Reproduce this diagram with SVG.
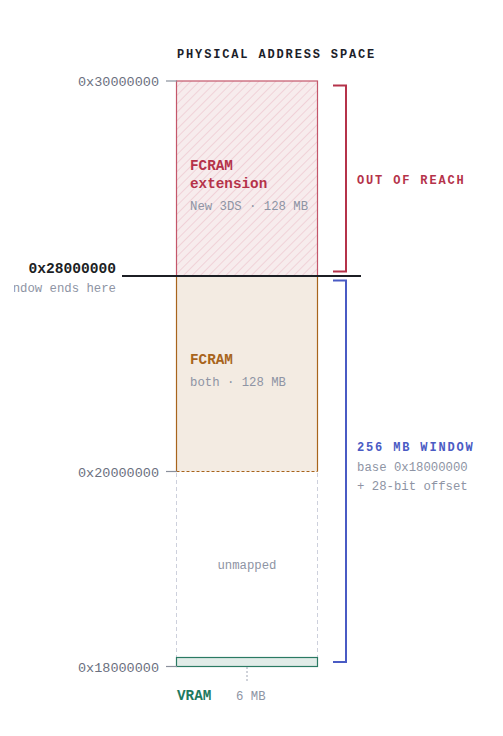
<svg xmlns="http://www.w3.org/2000/svg" width="503" height="736" viewBox="0 0 503 736">
<style>
text{font-family:"Liberation Mono","DejaVu Sans Mono",monospace;}
.title{font-size:12px;font-weight:bold;letter-spacing:1.85px;}
.addr{font-size:13.5px;fill:#6b7080;text-anchor:end;}
.tick{stroke:#8a909c;stroke-width:1.2;}
.name{font-size:14.3px;font-weight:bold;}
.sub{font-size:12.3px;fill:#8e94a4;}
</style>
<defs>
<pattern id="hatch" width="6" height="6" patternUnits="userSpaceOnUse" patternTransform="rotate(45)">
<rect width="6" height="6" fill="#f7eced"/>
<line x1="0" y1="0" x2="0" y2="6" stroke="#e9b9c3" stroke-width="1"/>
</pattern>
<clipPath id="leftclip"><rect x="14" y="0" width="489" height="736"/></clipPath>
</defs>
<text class="title" x="177" y="58" fill="#1c1e2a">PHYSICAL ADDRESS SPACE</text>

<g id="ext">
<rect x="176.5" y="81" width="141" height="195" fill="url(#hatch)" stroke="#c4566a" stroke-width="1.2"/>
<text class="name" x="190" y="170" fill="#b5334a">FCRAM</text>
<text class="name" x="190" y="188" fill="#b5334a">extension</text>
<text class="sub" x="190" y="210">New 3DS · 128 MB</text>
</g>

<g id="fcram">
<rect x="176.5" y="276" width="141" height="195.5" fill="#f3ebe2"/>
<line x1="176.5" y1="276" x2="176.5" y2="471.5" stroke="#a8641c" stroke-width="1.2"/>
<line x1="317.5" y1="276" x2="317.5" y2="471.5" stroke="#a8641c" stroke-width="1.2"/>
<line x1="176.5" y1="471.5" x2="317.5" y2="471.5" stroke="#a8641c" stroke-width="1.2" stroke-dasharray="3,2"/>
<text class="name" x="190" y="364" fill="#a8641c">FCRAM</text>
<text class="sub" x="190" y="386">both · 128 MB</text>
</g>

<g id="unmapped">
<line x1="176.5" y1="473" x2="176.5" y2="657" stroke="#cdd0dc" stroke-width="1" stroke-dasharray="4,3"/>
<line x1="317.5" y1="473" x2="317.5" y2="657" stroke="#cdd0dc" stroke-width="1" stroke-dasharray="4,3"/>
<text class="sub" x="247" y="569" text-anchor="middle" fill="#9aa0b0">unmapped</text>
</g>

<g id="vram">
<rect x="176.5" y="657.5" width="141" height="9" fill="#e1ece8" stroke="#2a7a63" stroke-width="1.2"/>
<line x1="247" y1="667" x2="247" y2="683" stroke="#a0a6b4" stroke-width="1" stroke-dasharray="2,2"/>
<text class="name" x="177" y="700" fill="#1f7a5f">VRAM</text>
<text class="sub" x="236" y="700">6 MB</text>
</g>

<g id="axis">
<line class="tick" x1="166" y1="81" x2="177" y2="81"/>
<line class="tick" x1="166" y1="471.5" x2="177" y2="471.5"/>
<line class="tick" x1="166" y1="666.5" x2="177" y2="666.5"/>
<text class="addr" x="159" y="86">0x30000000</text>
<text class="addr" x="159" y="477">0x20000000</text>
<text class="addr" x="159" y="672">0x18000000</text>
</g>

<g id="boundary">
<line x1="122" y1="276" x2="361" y2="276" stroke="#1c1e24" stroke-width="2"/>
<text x="116" y="273" text-anchor="end" font-size="14.6" font-weight="bold" fill="#1c1e24">0x28000000</text>
<text class="sub" x="116" y="292" text-anchor="end" clip-path="url(#leftclip)">window ends here</text>
</g>

<g id="connectors">
<path d="M333,85.5 H346 V271.5 H333" fill="none" stroke="#b5334a" stroke-width="2"/>
<path d="M333,280.5 H346 V662 H333" fill="none" stroke="#4a5bc4" stroke-width="2"/>
</g>

<g id="reach">
<text class="title" x="357" y="184" fill="#b5334a">OUT OF REACH</text>
</g>
<g id="window">
<text class="title" x="357" y="451" fill="#4a5bc4">256 MB WINDOW</text>
<text class="sub" x="357" y="471">base 0x18000000</text>
<text class="sub" x="357" y="490">+ 28-bit offset</text>
</g>
</svg>
